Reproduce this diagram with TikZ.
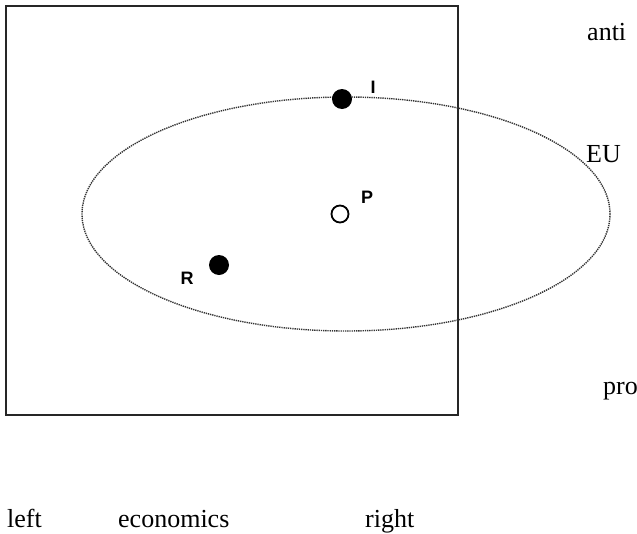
\documentclass[tikz,border=0pt]{standalone}
\usepackage{fontspec}
\setmainfont{Liberation Serif}
\newfontfamily\lblfont{Liberation Sans}
\begin{document}
\begin{tikzpicture}[x=1pt,y=-1pt,
  axislabel/.style={anchor=base west,inner sep=0pt,font=\fontsize{26}{29}\selectfont},
  ptlabel/.style={inner sep=0pt,font=\lblfont\bfseries\fontsize{18}{21}\selectfont},
  fulldot/.style={circle,fill=black,minimum size=20pt,inner sep=0pt},
  opendot/.style={circle,draw=black,line width=1.8pt,fill=white,minimum size=17pt,inner sep=0pt},
  frame/.style={draw=black!85,line width=2pt},
  region/.style={draw=black!80,line width=1.4pt,dash pattern=on 1.3pt off 0.9pt}]
\useasboundingbox (0,0) rectangle (637,533);
\draw[frame] (6,6) rectangle (458,415);
\draw[region] (346,214) ellipse [x radius=264, y radius=117];
\node[fulldot] (I) at (342,99) {};
\node[opendot] (P) at (340,214) {};
\node[fulldot] (R) at (219,265) {};
\node[ptlabel] (Il) at (373,87) {I};
\node[ptlabel] (Pl) at (367,197) {P};
\node[ptlabel] (Rl) at (187,278) {R};
\node[axislabel] (anti) at (587,40) {anti};
\node[axislabel] (eu) at (586,162) {EU};
\node[axislabel] (pro) at (603,394) {pro};
\node[axislabel] (left) at (7,527) {left};
\node[axislabel] (econ) at (118,527) {economics};
\node[axislabel] (right) at (365,527) {right};
\end{tikzpicture}
\end{document}
